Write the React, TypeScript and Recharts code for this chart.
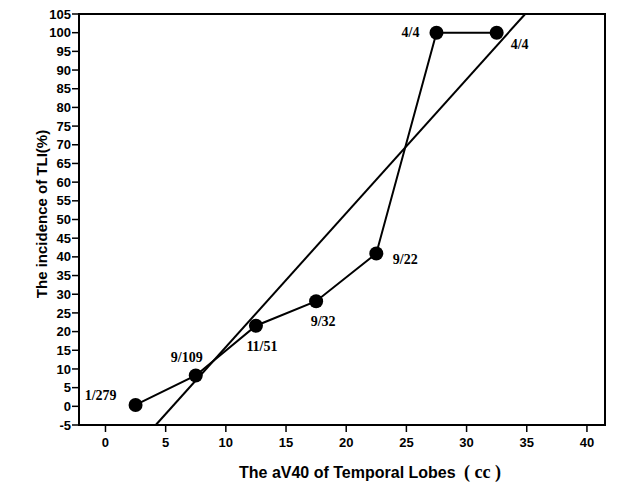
import React from "react";
import {
  ComposedChart,
  Line,
  XAxis,
  YAxis,
  ReferenceLine,
  ReferenceArea,
  LabelList,
} from "recharts";

const volumes = [2.5, 7.5, 12.5, 17.5, 22.5, 27.5, 32.5];
const incidence = [0.36, 8.26, 21.57, 28.13, 40.91, 100, 100];
const ratioLabels = ["1/279", "9/109", "11/51", "9/32", "9/22", "4/4", "4/4"];
const xTicks = [0, 5, 10, 15, 20, 25, 30, 35, 40];
const yTicks = [-5, 0, 5, 10, 15, 20, 25, 30, 35, 40, 45, 50, 55, 60, 65, 70, 75, 80, 85, 90, 95, 100, 105];
const fitSlope = 3.584;
const fitIntercept = -19.97;

const X_DOMAIN: [number, number] = [-2.2, 41.5];
const Y_DOMAIN: [number, number] = [-5, 105];

const labelOffsets = [
  [-35, -9],
  [-9, -18],
  [6, 21],
  [7, 20],
  [29, 6],
  [-26, 0],
  [23, 12],
];

const data = volumes.map((v, i) => ({ x: v, y: incidence[i], label: ratioLabels[i] }));

const fitY0 = Y_DOMAIN[0];
const fitY1 = Y_DOMAIN[1];
const fitSegment = [
  { x: (fitY0 - fitIntercept) / fitSlope, y: fitY0 },
  { x: (fitY1 - fitIntercept) / fitSlope, y: fitY1 },
];

const RatioLabel = (props: any) => {
  const { x, y, index, value } = props;
  const off = labelOffsets[index] || [0, 0];
  return (
    <text
      x={x + off[0]}
      y={y + off[1]}
      textAnchor="middle"
      dominantBaseline="central"
      fontFamily="'Liberation Serif', 'Times New Roman', serif"
      fontWeight="bold"
      fontSize={14}
      fill="#000"
    >
      {value}
    </text>
  );
};

const tickStyle = {
  fontFamily: "'Liberation Sans', Arial, sans-serif",
  fontWeight: "bold" as const,
  fontSize: 13,
  fill: "#000",
};

const XTitle = () => (
  <g>
    <text
      x={239}
      y={478}
      textAnchor="start"
      fill="#000"
      fontWeight="bold"
      fontFamily="'Liberation Sans', Arial, sans-serif"
      fontSize={16}
    >
      The aV40 of Temporal Lobes
    </text>
    <text
      x={464}
      y={478}
      textAnchor="start"
      fill="#000"
      fontWeight="bold"
      fontFamily="'Liberation Serif', 'Times New Roman', serif"
      fontSize={18}
    >
      ( cc )
    </text>
  </g>
);

const YTitle = () => (
  <text
    x={41}
    y={214}
    transform="rotate(-90 41 214)"
    textAnchor="middle"
    dominantBaseline="central"
    fontFamily="'Liberation Sans', Arial, sans-serif"
    fontWeight="bold"
    fontSize={15}
    fill="#000"
  >
    The incidence of TLI(%)
  </text>
);

export default function App() {
  return (
    <div style={{ position: "absolute", left: 0, top: 0, width: 627, height: 502, background: "#fff" }}>
      <ComposedChart
        width={627}
        height={502}
        data={data}
        margin={{ top: 14, right: 22, bottom: 0, left: 0 }}
      >
        <XAxis
          dataKey="x"
          type="number"
          domain={X_DOMAIN}
          ticks={xTicks}
          allowDataOverflow
          tick={tickStyle}
          tickLine={{ stroke: "#000", strokeWidth: 1.5 }}
          axisLine={{ stroke: "#000", strokeWidth: 2 }}
          tickSize={7}
          tickMargin={6}
          height={77}
          label={<XTitle />}
        />
        <YAxis
          dataKey="y"
          type="number"
          domain={Y_DOMAIN}
          ticks={yTicks}
          interval={0}
          allowDataOverflow
          tick={tickStyle}
          tickLine={{ stroke: "#000", strokeWidth: 1.5 }}
          axisLine={{ stroke: "#000", strokeWidth: 2 }}
          tickSize={7}
          tickMargin={1}
          width={79}
          label={<YTitle />}
        />
        <ReferenceArea
          x1={X_DOMAIN[0]}
          x2={X_DOMAIN[1]}
          y1={Y_DOMAIN[0]}
          y2={Y_DOMAIN[1]}
          fill="none"
          stroke="#000"
          strokeWidth={2}
          ifOverflow="extendDomain"
        />
        <ReferenceLine
          segment={fitSegment}
          stroke="#000"
          strokeWidth={2}
          ifOverflow="visible"
        />
        <Line
          dataKey="y"
          type="linear"
          stroke="#000"
          strokeWidth={2}
          dot={{ r: 7, fill: "#000", stroke: "#000", strokeWidth: 0 }}
          isAnimationActive={false}
        >
          <LabelList dataKey="label" content={<RatioLabel />} />
        </Line>
      </ComposedChart>
    </div>
  );
}
